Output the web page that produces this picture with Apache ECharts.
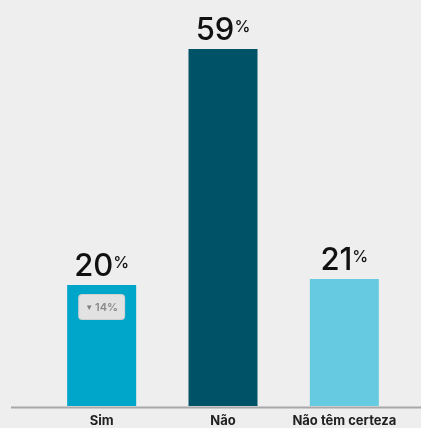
<!DOCTYPE html>
<html>
<head>
<meta charset="utf-8">
<script src="https://cdn.jsdelivr.net/npm/echarts@6/dist/echarts.min.js"></script>
<style>
  html, body { margin: 0; padding: 0; background: #eeeeee; }
  #chart { width: 421px; height: 428px; }
</style>
</head>
<body>
<div id="chart"></div>
<script>
const categories = ['Sim', 'Não', 'Não têm certeza']
const values = [20, 59, 21]
const changes = [-14, null, null]  // variação vs. pesquisa anterior
const colors = ['#00a6c9', '#005366', '#66cae0']

const chart = echarts.init(document.getElementById('chart'))

const option = {
  backgroundColor: '#eeeeee',
  animation: false,
  grid: { left: 41, right: 16, top: 43, bottom: 20 },
  xAxis: {
    type: 'category',
    data: categories,
    axisLine: { show: false },
    axisTick: { show: false },
    axisLabel: {
      interval: 0,
      margin: 9,
      fontSize: 13,
      fontWeight: 'bold',
      color: '#222',
      fontFamily: 'Inter'
    }
  },
  yAxis: {
    type: 'value',
    min: 0,
    max: 60,
    show: false
  },
  graphic: [{
    type: 'line',
    shape: { x1: 11, y1: 407.5, x2: 421, y2: 407.5 },
    style: { stroke: '#a8a8a8', lineWidth: 2 },
    z: 10
  }],
  series: [
    {
      type: 'bar',
      barWidth: 69,
      data: values.map((v, i) => ({ value: v, itemStyle: { color: colors[i] } })),
      label: {
        show: true,
        position: 'top',
        distance: 3,
        formatter: p => '{n|' + p.value + '}{p|%}',
        rich: {
          n: { fontSize: 31, fontWeight: 500, color: '#111', fontFamily: 'Inter', lineHeight: 30 },
          p: { fontSize: 16, fontWeight: 500, color: '#111', fontFamily: 'Inter', verticalAlign: 'top', lineHeight: 30, padding: [3, 0, 0, 0] }
        }
      }
    },
    {
      type: 'bar',
      barWidth: 69,
      barGap: '-100%',
      silent: true,
      itemStyle: { color: 'transparent' },
      data: values.map((v, i) => ({
        value: v,
        label: {
          show: changes[i] != null,
          position: 'insideTop',
          distance: 10,
          formatter: () => '{a|▼}{t|' + Math.abs(changes[i]) + '%}',
          backgroundColor: '#e2e2e2',
          borderColor: '#d0d0d0',
          borderWidth: 1,
          borderRadius: 3,
          padding: [7, 6, 6, 6],
          rich: {
            a: { fontSize: 8, color: '#808080', padding: [0, 2, 0, 0] },
            t: { fontSize: 11, fontWeight: 600, color: '#8a8a8a', fontFamily: 'Inter' }
          }
        }
      }))
    }
  ]
}

chart.setOption(option)
</script>
</body>
</html>
